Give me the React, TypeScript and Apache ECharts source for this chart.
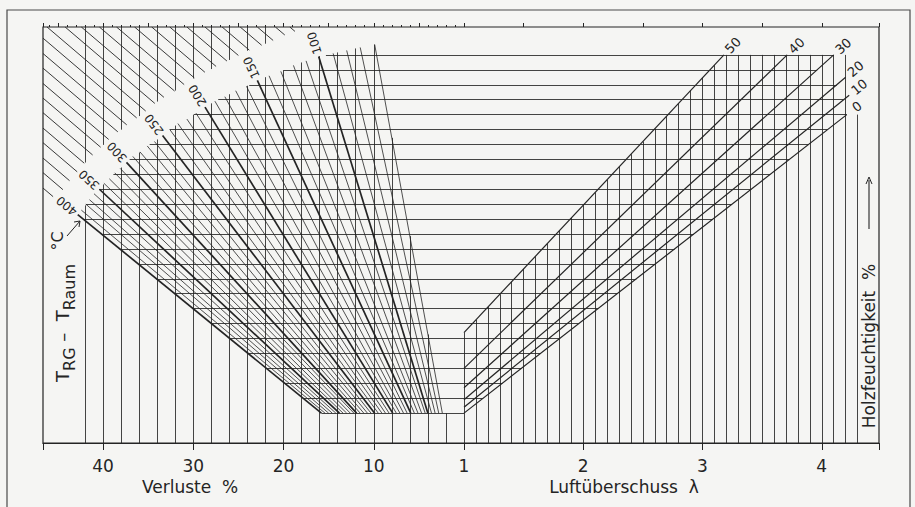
import React, { useEffect, useRef } from "react";
import * as echarts from "echarts";

// ---------------- data ----------------
const lossTickLabels = [10, 20, 30, 40];
const lambdaTickLabels = [1, 2, 3, 4];
const lossMax = 46.65;
const lambdaMin = 1;
const lambdaMax = 4.48;
const levelMin = -2;
const levelMax = 25.87;

// fan of flue-gas temperature difference lines (T_RG - T_Raum, °C)
const fanTemps = [400, 390, 380, 370, 360, 350, 340, 330, 320, 310, 300, 290, 280, 270, 260, 250, 240, 230, 220, 210, 200, 190, 180, 170, 160, 150, 140, 130, 120, 110, 100, 90, 80, 70, 60];
const fanTopLoss = [42.8, 42.4, 41.9, 41.5, 41.0, 40.4, 39.9, 39.3, 38.7, 38.1, 37.4, 36.7, 35.9, 35.1, 34.3, 33.4, 32.6, 31.7, 30.7, 29.7, 28.7, 27.6, 26.5, 25.3, 24.1, 22.9, 21.6, 20.3, 18.9, 17.5, 16.1, 14.5, 13.0, 11.5, 9.9];
const fanTopLevel = [13.3, 13.6, 14.0, 14.3, 14.7, 15.0, 15.4, 15.7, 16.1, 16.4, 16.8, 17.2, 17.5, 17.9, 18.2, 18.6, 19.0, 19.4, 19.7, 20.1, 20.5, 20.9, 21.2, 21.6, 21.9, 22.3, 22.6, 22.9, 23.3, 23.6, 23.9, 24.1, 24.3, 24.5, 24.7];
const fanBaseLoss = [15.8, 15.4, 15.0, 14.6, 14.2, 13.8, 13.4, 13.0, 12.6, 12.2, 11.9, 11.5, 11.1, 10.7, 10.3, 9.9, 9.5, 9.1, 8.7, 8.3, 7.9, 7.5, 7.1, 6.7, 6.3, 5.9, 5.5, 5.1, 4.7, 4.3, 4.0, 3.6, 3.2, 2.8, 2.4];
const boldTemps = [400, 350, 300, 250, 200, 150, 100];

// reference grid
const gridLevels = [0, 1, 2, 3, 4, 5, 6, 7, 8, 9, 10, 11, 12, 13, 14, 15, 16, 17, 18, 19, 20, 21, 22, 23, 24];
const lossGridLines = [2, 4, 6, 8, 10, 12, 14, 16, 18, 20, 22, 24, 26, 28, 30, 32, 34, 36, 38, 40, 42];
const lambdaGridLines = [1.0, 1.1, 1.2, 1.3, 1.4, 1.5, 1.6, 1.7, 1.8, 1.9, 2.0, 2.1, 2.2, 2.3, 2.4, 2.5, 2.6, 2.7, 2.8, 2.9, 3.0, 3.1, 3.2, 3.3, 3.4, 3.5, 3.6, 3.7, 3.8, 3.9, 4.0, 4.1, 4.2, 4.3];

// wood moisture lines (Holzfeuchtigkeit %)
const moistureValues = [0, 10, 20, 30, 40, 50];
const moistureStartLevel = [0.0, 0.4, 0.9, 1.7, 3.0, 5.4];
const moistureTopLambda = [4.21, 4.23, 4.2, 4.1, 3.71, 3.18];
const moistureTopLevel = [20.0, 21.3, 22.5, 24.0, 24.0, 24.0];

// hatching of the unused upper-left field (where each hatch line meets the top edge, in %)
const hatchTopLoss = [19.3, 20.9, 22.9, 24.8, 26.8, 28.7, 30.7, 32.6, 34.6, 36.5, 38.5, 40.4, 42.4, 44.2, 46.2, 48.1, 50.1, 52.0, 54.0, 55.9, 57.8, 59.8, 61.7, 63.7, 65.6, 67.6];
const hatchSlope = 0.515;
const hatchCornerLevel = 14.7;
const hatchGapFactor = 1.085; // white band for the temperature labels

// ---------------- helpers ----------------
function interp(x: number, xs: number[], ys: number[]) {
  if (x <= xs[0]) return ys[0];
  for (let i = 1; i < xs.length; i++) {
    if (x <= xs[i]) {
      const t = (x - xs[i - 1]) / (xs[i] - xs[i - 1]);
      return ys[i - 1] + t * (ys[i] - ys[i - 1]);
    }
  }
  return ys[ys.length - 1];
}

const arcLossAsc = fanTopLoss.slice().reverse();
const arcLevelByLoss = fanTopLevel.slice().reverse();
const outerLoss = fanTopLoss.map((v, i) => fanBaseLoss[i] + (v - fanBaseLoss[i]) * hatchGapFactor);
const outerLevel = fanTopLevel.map((q) => q * hatchGapFactor);
const outerLossAsc = outerLoss.slice().reverse();
const outerLevelByLoss = outerLevel.slice().reverse();

function arcLevelAtLoss(v: number) {
  return interp(v, arcLossAsc, arcLevelByLoss);
}
function arcLossAtLevel(q: number) {
  return interp(q, fanTopLevel, fanTopLoss);
}
// lower edge of the hatched field
function hatchEdge(v: number) {
  if (v < outerLossAsc[0]) return levelMax + 10;
  if (v <= outerLoss[0]) return interp(v, outerLossAsc, outerLevelByLoss);
  return outerLevel[0] + ((v - outerLoss[0]) * (hatchCornerLevel - outerLevel[0])) / (lossMax - outerLoss[0]);
}

function moistureLambdaAt(i: number, q: number) {
  const q0 = moistureStartLevel[i];
  const q1 = moistureTopLevel[i];
  if (q < q0 || q > q1) return null;
  return lambdaMin + ((moistureTopLambda[i] - lambdaMin) * (q - q0)) / (q1 - q0);
}

const ink = "#242424";
const font = "'DejaVu Sans', 'Liberation Sans', sans-serif";

export default function App() {
  const ref = useRef<HTMLDivElement>(null);

  useEffect(() => {
    const chart = echarts.init(ref.current!, null, { renderer: "svg" });

    // fan lines
    const fanThin: any[] = [];
    const fanBold: any[] = [];
    fanTemps.forEach((t, i) => {
      const item = { coords: [[fanBaseLoss[i], 0], [fanTopLoss[i], fanTopLevel[i]]] };
      if (boldTemps.includes(t)) fanBold.push(item);
      else fanThin.push(item);
    });

    // horizontal grid lines (left and right parts)
    const hLeft: any[] = [];
    const hRight: any[] = [];
    const last = fanTemps.length - 1;
    gridLevels.forEach((q) => {
      let vLeft: number;
      if (q <= fanTopLevel[0]) {
        vLeft = fanBaseLoss[0] + ((fanTopLoss[0] - fanBaseLoss[0]) * q) / fanTopLevel[0];
      } else {
        vLeft = arcLossAtLevel(q);
      }
      hLeft.push({ coords: [[vLeft, q], [0, q]] });
      let lamRight = lambdaMin;
      moistureValues.forEach((_, i) => {
        const l = moistureLambdaAt(i, q);
        if (l !== null && l > lamRight) lamRight = l;
      });
      if (lamRight > lambdaMin + 0.001) hRight.push({ coords: [[lambdaMin, q], [lamRight, q]] });
    });

    // vertical grid lines, loss side
    const vLeftLines: any[] = [];
    lossGridLines.forEach((v) => {
      let top: number;
      if (v >= fanTopLoss[last]) top = arcLevelAtLoss(v);
      else if (v >= fanBaseLoss[last])
        top = (fanTopLevel[last] * (v - fanBaseLoss[last])) / (fanTopLoss[last] - fanBaseLoss[last]);
      else top = 0;
      vLeftLines.push({ coords: [[v, levelMin], [v, top]] });
      const e = hatchEdge(v);
      if (v >= 21 && e < levelMax - 0.3) vLeftLines.push({ coords: [[v, e], [v, levelMax]] });
    });

    // vertical grid lines, lambda side
    const vRightLines: any[] = [];
    const maxTopLambda = Math.max(...moistureTopLambda);
    const i50 = moistureValues.length - 1;
    lambdaGridLines.forEach((lam) => {
      let top: number;
      if (lam > maxTopLambda) top = moistureTopLevel[0];
      else {
        const q50 =
          moistureStartLevel[i50] +
          ((moistureTopLevel[i50] - moistureStartLevel[i50]) * (lam - lambdaMin)) / (moistureTopLambda[i50] - lambdaMin);
        top = Math.min(q50, moistureTopLevel[i50]);
      }
      vRightLines.push({ coords: [[lam, levelMin], [lam, top]] });
    });

    // moisture lines
    const moistLines = moistureValues.map((_, i) => ({
      coords: [[lambdaMin, moistureStartLevel[i]], [moistureTopLambda[i], moistureTopLevel[i]]],
    }));

    // hatch lines
    const hatch: any[] = [];
    hatchTopLoss.forEach((vt) => {
      const v0 = Math.min(vt, lossMax);
      const L = (v: number) => levelMax - hatchSlope * (vt - v);
      const q0 = L(v0);
      if (q0 <= hatchEdge(v0)) return;
      let v = v0;
      while (v > 0 && L(v) > hatchEdge(v)) v -= 0.01;
      hatch.push({ coords: [[v0, q0], [v, L(v)]] });
    });

    const lineSeries = (data: any[], xi: number, width: number, z = 3) => ({
      type: "lines",
      coordinateSystem: "cartesian2d",
      xAxisIndex: xi,
      yAxisIndex: xi,
      silent: true,
      z,
      lineStyle: { color: ink, width, opacity: 1, curveness: 0 },
      data,
    });

    const labelStyle = { color: ink, fontSize: 17, fontFamily: font, margin: 14 };

    const option: any = {
      animation: false,
      backgroundColor: "#f5f5f3",
      grid: [
        { left: 43, top: 27, width: 421, height: 416, show: false },
        { left: 464, top: 27, width: 415, height: 416, show: false },
        { left: 43, top: 27, width: 836, height: 416, show: true, borderColor: ink, borderWidth: 1.2, backgroundColor: "transparent" },
      ],
      xAxis: [
        {
          gridIndex: 0, type: "value", min: 0, max: lossMax, inverse: true, interval: 10,
          axisLine: { show: true, onZero: false, lineStyle: { color: ink, width: 1.2 } },
          axisTick: { show: true, length: 7, lineStyle: { color: ink, width: 1 } },
          axisLabel: { ...labelStyle, formatter: (v: number) => (lossTickLabels.includes(v) ? String(v) : "") },
          splitLine: { show: false },
        },
        {
          gridIndex: 1, type: "value", min: lambdaMin, max: lambdaMax, interval: 1,
          axisLine: { show: true, onZero: false, lineStyle: { color: ink, width: 1.2 } },
          axisTick: { show: true, length: 7, lineStyle: { color: ink, width: 1 } },
          axisLabel: { ...labelStyle, formatter: (v: number) => (lambdaTickLabels.includes(v) ? String(v) : "") },
          splitLine: { show: false },
        },
        {
          gridIndex: 0, type: "value", min: 0, max: lossMax, inverse: true, interval: 5,
          axisLine: { show: false, onZero: false },
          axisTick: { show: true, length: 4, lineStyle: { color: ink, width: 1 } },
          minorTick: { show: true, splitNumber: 5, length: 2, lineStyle: { color: ink, width: 1 } },
          axisLabel: { show: false },
          splitLine: { show: false },
        },
        {
          gridIndex: 1, type: "value", min: lambdaMin, max: lambdaMax, interval: 0.5,
          axisLine: { show: false, onZero: false },
          axisTick: { show: true, length: 4, lineStyle: { color: ink, width: 1 } },
          axisLabel: { show: false },
          splitLine: { show: false },
        },
        { gridIndex: 2, type: "value", show: false, min: 0, max: 1 },
      ],
      yAxis: [
        { gridIndex: 0, type: "value", show: false, min: levelMin, max: levelMax, splitLine: { show: false } },
        { gridIndex: 1, type: "value", show: false, min: levelMin, max: levelMax, splitLine: { show: false } },
        { gridIndex: 2, type: "value", show: false, min: 0, max: 1, splitLine: { show: false } },
      ],
      series: [
        lineSeries(hatch, 0, 0.9),
        lineSeries(vLeftLines, 0, 0.85),
        lineSeries(hLeft, 0, 0.85),
        lineSeries(fanThin, 0, 0.8),
        lineSeries(fanBold, 0, 1.7, 4),
        lineSeries(vRightLines, 1, 0.85),
        lineSeries(hRight, 1, 0.85),
        lineSeries(moistLines, 1, 1.2, 4),
      ],
    };
    chart.setOption(option);

    // ---------- texts placed through the chart's own scales ----------
    const px = (g: number, x: number, y: number) => chart.convertToPixel({ gridIndex: g } as any, [x, y]) as number[];
    const graphics: any[] = [];
    const txt = (text: string, x: number, y: number, size: number, rotation = 0) => ({
      type: "text",
      x,
      y,
      rotation,
      silent: true,
      z: 10,
      style: {
        text,
        fill: ink,
        fontSize: size,
        fontFamily: font,
        align: "center",
        verticalAlign: "middle",
        textAlign: "center",
        textVerticalAlign: "middle",
      },
    });

    boldTemps.forEach((t) => {
      const i = fanTemps.indexOf(t);
      const top = px(0, fanTopLoss[i], fanTopLevel[i]);
      const base = px(0, fanBaseLoss[i], 0);
      const dx = top[0] - base[0];
      const dy = top[1] - base[1];
      const n = Math.hypot(dx, dy);
      const ux = dx / n;
      const uy = dy / n;
      graphics.push(txt(String(t), top[0] + ux * 14, top[1] + uy * 14, 12, Math.atan2(-uy, ux)));
    });

    moistureValues.forEach((m, i) => {
      const s = px(1, lambdaMin, moistureStartLevel[i]);
      const top = px(1, moistureTopLambda[i], moistureTopLevel[i]);
      const dx = top[0] - s[0];
      const dy = top[1] - s[1];
      const n = Math.hypot(dx, dy);
      const ux = dx / n;
      const uy = dy / n;
      graphics.push(txt(String(m), top[0] + ux * 13, top[1] + uy * 13, 13, Math.atan2(-uy, ux)));
    });

    graphics.push(txt("Verluste  %", 190, 487, 17));
    graphics.push(txt("Luftüberschuss  λ", 624, 487, 17));
    graphics.push(txt("Holzfeuchtigkeit  %", 869, 346, 17, Math.PI / 2));
    graphics.push({
      type: "text",
      x: 62,
      y: 323,
      rotation: Math.PI / 2,
      silent: true,
      z: 10,
      style: {
        text: "{t|T}{s|RG}{t| –  T}{s|Raum}",
        fill: ink,
        fontFamily: font,
        fontSize: 18,
        align: "center",
        verticalAlign: "middle",
        rich: {
          t: { fontSize: 18, fontFamily: font, fill: ink, lineHeight: 30, verticalAlign: "middle" },
          s: { fontSize: 16, fontFamily: font, fill: ink, lineHeight: 16, verticalAlign: "bottom" },
        },
      },
    });
    graphics.push(txt("°C", 57, 241, 16, Math.PI / 2));
    // small arrows
    graphics.push({ type: "line", silent: true, z: 10, shape: { x1: 67, y1: 236, x2: 80, y2: 221 }, style: { stroke: ink, lineWidth: 1 } });
    graphics.push({ type: "polyline", silent: true, z: 10, shape: { points: [[74, 222], [80, 221], [79, 227]] }, style: { stroke: ink, lineWidth: 1, fill: "none" } });
    graphics.push({ type: "line", silent: true, z: 10, shape: { x1: 869, y1: 229, x2: 869, y2: 180 }, style: { stroke: ink, lineWidth: 1.1 } });
    graphics.push({ type: "polyline", silent: true, z: 10, shape: { points: [[866, 184], [869, 177], [872, 184]] }, style: { stroke: ink, lineWidth: 1, fill: "none" } });
    // outer frame of the figure
    graphics.push({ type: "rect", silent: true, z: 0, shape: { x: 7, y: 10, width: 903, height: 530 }, style: { stroke: "#4a4a4a", lineWidth: 1.2, fill: "none" } });

    chart.setOption({ graphic: graphics });

    return () => chart.dispose();
  }, []);

  return <div ref={ref} style={{ position: "fixed", left: 0, top: 0, width: 915, height: 507 }} />;
}
